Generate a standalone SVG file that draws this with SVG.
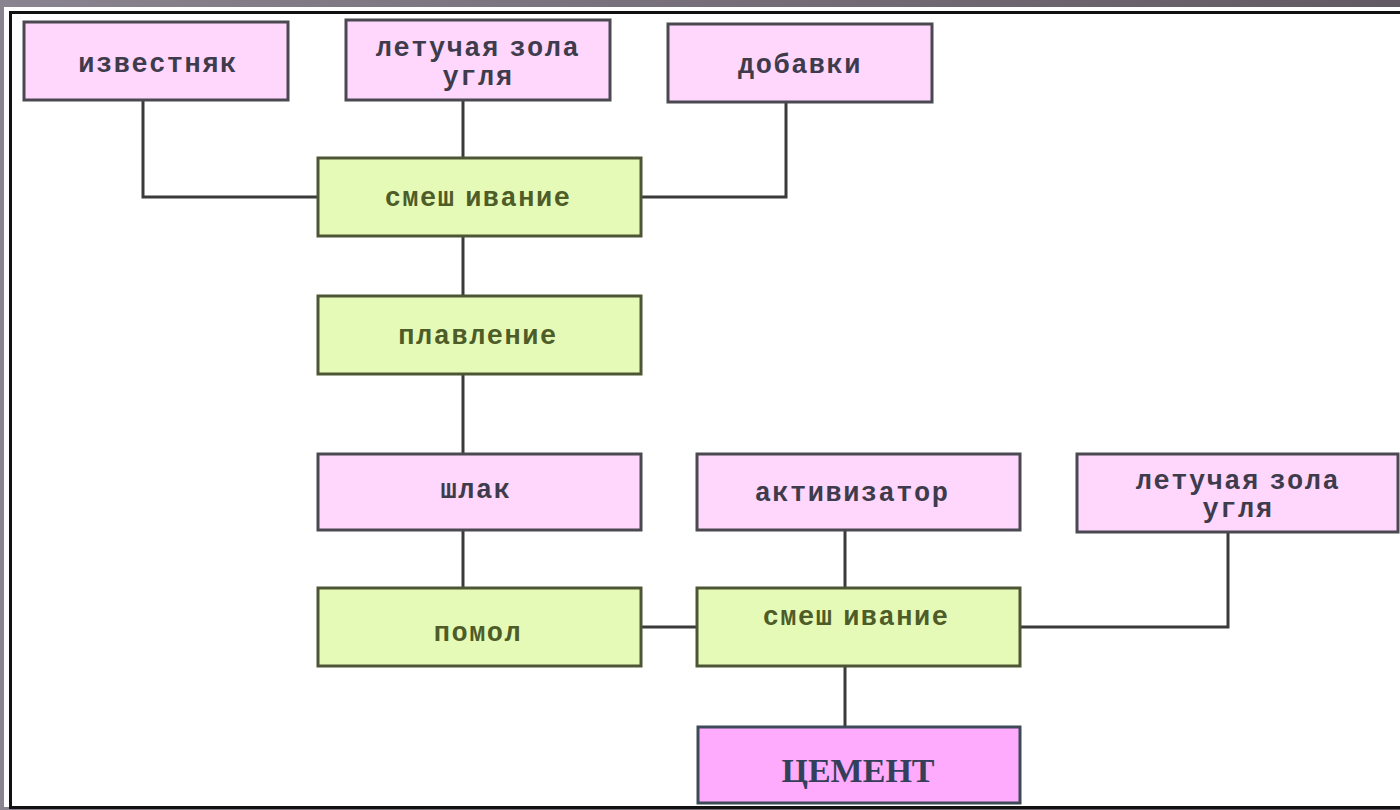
<svg xmlns="http://www.w3.org/2000/svg" width="1400" height="810" viewBox="0 0 1400 810">
<defs>
<linearGradient id="bg" x1="0" y1="0" x2="1" y2="0">
<stop offset="0" stop-color="#8a8490"/>
<stop offset="1" stop-color="#625a62"/>
</linearGradient>
</defs>
<style>
.pink{fill:#ffd6fc;stroke:#4a4850;stroke-width:3}
.green{fill:#e6fab8;stroke:#4c5634;stroke-width:3}
.cement{fill:#ffabfd;stroke:#3e4a58;stroke-width:3}
.tp{font-family:"Liberation Mono","DejaVu Sans Mono",monospace;font-weight:bold;font-size:27px;fill:#3e3c4c;text-anchor:middle;letter-spacing:1.5px;word-spacing:-8px}
.tg{font-family:"Liberation Mono","DejaVu Sans Mono",monospace;font-weight:bold;font-size:27px;fill:#4e5c28;text-anchor:middle;letter-spacing:1.5px;word-spacing:-8px}
.tc{font-family:"Liberation Serif","Times New Roman",serif;font-weight:bold;font-size:34px;fill:#34405a;text-anchor:middle}
.ln{fill:none;stroke:#3a3a3a;stroke-width:3}
</style>
<rect x="0" y="0" width="1400" height="810" fill="url(#bg)"/>
<rect x="4" y="7" width="1396" height="800" fill="#ffffff"/>
<rect x="10.5" y="12.5" width="1395" height="795" fill="#ffffff" stroke="#111111" stroke-width="3"/>
<g id="connectors">
<polyline class="ln" points="143,100 143,197 318,197"/>
<line class="ln" x1="463" y1="100" x2="463" y2="158"/>
<polyline class="ln" points="786,102 786,197 641,197"/>
<line class="ln" x1="463" y1="236" x2="463" y2="296"/>
<line class="ln" x1="463" y1="374" x2="463" y2="454"/>
<line class="ln" x1="463" y1="530" x2="463" y2="588"/>
<line class="ln" x1="641" y1="627" x2="697" y2="627"/>
<line class="ln" x1="845" y1="530" x2="845" y2="588"/>
<polyline class="ln" points="1020,627 1228,627 1228,532"/>
<line class="ln" x1="845" y1="666" x2="845" y2="727"/>
</g>
<g id="izvestnyak">
<rect class="pink" x="24" y="22" width="264" height="78"/>
<text class="tp" x="158" y="72">известняк</text>
</g>
<g id="zola1">
<rect class="pink" x="346" y="20" width="264" height="80"/>
<text class="tp" x="478" y="56">летучая зола</text>
<text class="tp" x="478" y="85">угля</text>
</g>
<g id="dobavki">
<rect class="pink" x="668" y="24" width="264" height="78"/>
<text class="tp" x="800" y="73">добавки</text>
</g>
<g id="smesh1">
<rect class="green" x="318" y="158" width="323" height="78"/>
<text class="tg" x="478" y="206">смеш ивание</text>
</g>
<g id="plavlenie">
<rect class="green" x="318" y="296" width="323" height="78"/>
<text class="tg" x="478" y="344">плавление</text>
</g>
<g id="shlak">
<rect class="pink" x="318" y="454" width="323" height="76"/>
<text class="tp" x="476" y="498">шлак</text>
</g>
<g id="pomol">
<rect class="green" x="318" y="588" width="323" height="78"/>
<text class="tg" x="478" y="641">помол</text>
</g>
<g id="aktivizator">
<rect class="pink" x="697" y="454" width="323" height="76"/>
<text class="tp" x="852" y="501">активизатор</text>
</g>
<g id="zola2">
<rect class="pink" x="1077" y="454" width="321" height="78"/>
<text class="tp" x="1238" y="489">летучая зола</text>
<text class="tp" x="1238" y="517">угля</text>
</g>
<g id="smesh2">
<rect class="green" x="697" y="588" width="323" height="78"/>
<text class="tg" x="856" y="625">смеш ивание</text>
</g>
<g id="cement">
<rect class="cement" x="698" y="727" width="322" height="76"/>
<text class="tc" x="858" y="782">ЦЕМЕНТ</text>
</g>
</svg>
